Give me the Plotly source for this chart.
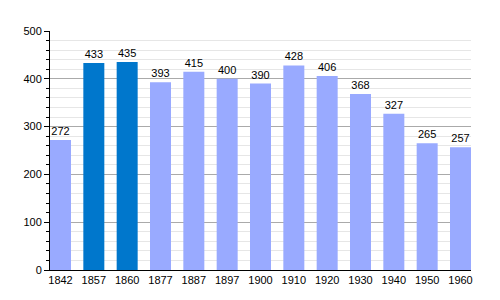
import plotly.graph_objects as go

years = ["1842", "1857", "1860", "1877", "1887", "1897", "1900", "1910", "1920", "1930", "1940", "1950", "1960"]
population = [272, 433, 435, 393, 415, 400, 390, 428, 406, 368, 327, 265, 257]
highlight = ["1857", "1860"]

colors = ["#0077cc" if y in highlight else "#99aaff" for y in years]

fig = go.Figure(go.Bar(
    x=years, y=population, marker_color=colors, marker_line_width=0,
    width=0.63, text=[str(v) for v in population], textposition="outside",
    textfont=dict(family="Liberation Sans, Arial", size=11, color="#000"),
    cliponaxis=False,
))
fig.update_layout(
    width=500, height=300, margin=dict(l=50, r=29, t=31, b=30),
    paper_bgcolor="white", plot_bgcolor="white", showlegend=False,
    font=dict(family="Liberation Sans, Arial", size=11, color="#000"),
    xaxis=dict(type="category", range=[-0.315, 12.315], showline=True, linecolor="#000",
               linewidth=1, ticks="", showgrid=False, tickfont=dict(size=11)),
    yaxis=dict(range=[0, 500], dtick=100, showline=True, linecolor="#000", linewidth=1,
               ticks="outside", ticklen=5, tickcolor="#000", showgrid=True, gridcolor="#aaaaaa",
               gridwidth=1, zeroline=False, tickfont=dict(size=11),
               minor=dict(dtick=20, ticks="outside", ticklen=3, tickcolor="#000",
                          showgrid=True, gridcolor="#e6e6e6", gridwidth=1)),
)
fig.write_html("out.html")
